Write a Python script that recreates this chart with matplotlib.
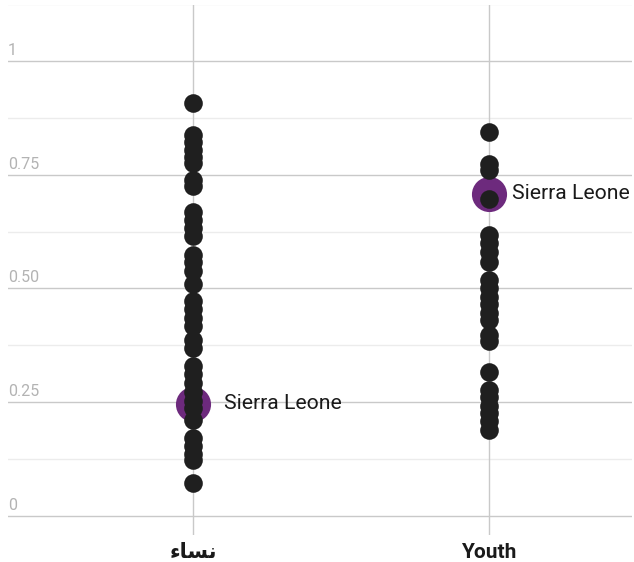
import matplotlib
matplotlib.use("Agg")
import matplotlib.pyplot as plt
from matplotlib.transforms import blended_transform_factory

# Category labels and values
categories = ["نساء", "Youth"]
women_values = [0.908, 0.837, 0.822, 0.804, 0.789, 0.776, 0.738, 0.725, 0.668, 0.651,
                0.633, 0.615, 0.574, 0.558, 0.538, 0.510, 0.473, 0.455, 0.435, 0.418,
                0.387, 0.369, 0.330, 0.312, 0.292, 0.273, 0.253, 0.237, 0.211, 0.171,
                0.154, 0.136, 0.123, 0.073]
youth_values = [0.844, 0.774, 0.760, 0.697, 0.618, 0.600, 0.580, 0.558, 0.519, 0.501,
                0.481, 0.466, 0.446, 0.431, 0.398, 0.385, 0.316, 0.277, 0.262, 0.242,
                0.226, 0.209, 0.189]
highlight_name = "Sierra Leone"
highlight_values = [0.246, 0.708]
y_ticks = [0, 0.25, 0.5, 0.75, 1]
y_tick_labels = ["0", "0.25", "0.50", "0.75", "1"]


def shape_arabic(text):
    """Contextual shaping + visual ordering for the few Arabic letters used,
    since matplotlib renders characters one by one, left to right."""
    forms = {  # isolated, final, initial, medial
        "ن": ("\uFEE5", "\uFEE6", "\uFEE7", "\uFEE8"),
        "س": ("\uFEB1", "\uFEB2", "\uFEB3", "\uFEB4"),
        "ا": ("\uFE8D", "\uFE8E", None, None),
        "ء": ("\uFE80", None, None, None),
    }
    joins_next = {"ن", "س"}
    if not any(c in forms for c in text):
        return text
    out = []
    for i, c in enumerate(text):
        prev_j = i > 0 and text[i - 1] in joins_next
        next_j = c in joins_next and i + 1 < len(text) and forms.get(text[i + 1], (None, None))[1] is not None
        iso, fin, ini, med = forms[c]
        if prev_j and next_j:
            out.append(med)
        elif prev_j:
            out.append(fin)
        elif next_j:
            out.append(ini)
        else:
            out.append(iso)
    return "".join(reversed(out))


W, H = 634, 562
fig = plt.figure(figsize=(W / 100, H / 100), dpi=100)
ax = fig.add_axes([8 / W, 27 / H, 624 / W, 530 / H])
ax.set_xlim(-0.625, 1.483)
ax.set_ylim(-0.042, 1.123)
ax.axis("off")

major_c = "#c9c9c9"
minor_c = "#ececec"
for v in [0.125, 0.375, 0.625, 0.875, 1.125]:
    ax.axhline(v, color=minor_c, lw=1.0, zorder=0)
for v in y_ticks:
    ax.axhline(v, color=major_c, lw=1.0, zorder=0)
for xi in range(len(categories)):
    ax.axvline(xi, color=major_c, lw=1.0, zorder=0)

trans = blended_transform_factory(ax.transAxes, ax.transData)
for v, lab in zip(y_ticks, y_tick_labels):
    ax.text(0.0, v + 0.007, lab, transform=trans, ha="left", va="bottom",
            fontsize=11.5, color="#b3b3b3", family=["Roboto", "DejaVu Sans"])

purple = "#6d2a7d"
dark = "#1f1f1f"
ax.scatter([0, 1], highlight_values, s=640, color=purple, zorder=2, linewidths=0)
ax.scatter([0] * len(women_values), women_values, s=180, color=dark, zorder=3, linewidths=0)
ax.scatter([1] * len(youth_values), youth_values, s=180, color=dark, zorder=3, linewidths=0)

label_offsets = [22.5, 16.5]
for xi, (v, dx) in enumerate(zip(highlight_values, label_offsets)):
    ax.annotate(highlight_name, (xi, v), xytext=(dx, 0), textcoords="offset points",
                ha="left", va="center", fontsize=15.2, color="#1a1a1a",
                family=["Roboto", "DejaVu Sans"], zorder=4)

for xi, cat in enumerate(categories):
    ax.text(xi, -0.081, shape_arabic(cat), ha="center", va="center", fontsize=15,
            fontweight="semibold", color="#1a1a1a", family=["Roboto", "DejaVu Sans"],
            clip_on=False)

fig.savefig("out.png", dpi=100, facecolor="white")
